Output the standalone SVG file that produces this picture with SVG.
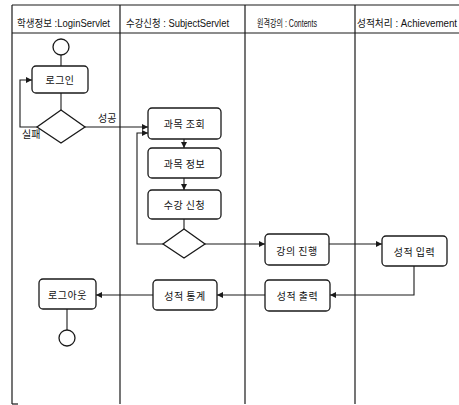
<svg xmlns="http://www.w3.org/2000/svg" width="459" height="405" viewBox="0 0 459 405">
<style>
.lane{stroke:#1a1a1a;stroke-width:1.2;fill:none}
.hdr{font-family:"Liberation Sans","Noto Sans CJK KR",sans-serif;font-size:10px;fill:#111}
.box{fill:#fff;stroke:#1a1a1a;stroke-width:1.3}
.lbl{font-family:"Noto Sans CJK KR","Noto Sans",sans-serif;font-size:10px;fill:#111;text-anchor:middle;dominant-baseline:central;letter-spacing:0.5px}
.edge{stroke:#1a1a1a;stroke-width:1.1;fill:none}
.node{fill:#fff;stroke:#1a1a1a;stroke-width:1.3}
.elbl{font-family:"Noto Sans CJK KR","Noto Sans",sans-serif;font-size:10px;fill:#111}
</style>
<defs>
<marker id="arr" viewBox="0 0 10 10" refX="10" refY="5" markerWidth="6" markerHeight="6" orient="auto" markerUnits="userSpaceOnUse">
<path d="M0,0 L10,5 L0,10 z" fill="#1a1a1a"/>
</marker>
</defs>
<rect width="459" height="405" fill="#fff"/>
<g id="lanes">
<line class="lane" x1="12" y1="5" x2="459" y2="5"/>
<line class="lane" x1="12" y1="33" x2="459" y2="33"/>
<line class="lane" x1="12" y1="5" x2="12" y2="404"/>
<line class="lane" x1="12" y1="404" x2="18" y2="404"/>
<line class="lane" x1="120" y1="5" x2="120" y2="404"/>
<line class="lane" x1="245" y1="5" x2="245" y2="404"/>
<line class="lane" x1="355" y1="5" x2="355" y2="404"/>
<text class="hdr" x="17" y="27" textLength="93" lengthAdjust="spacingAndGlyphs">학생정보 :LoginServlet</text>
<text class="hdr" x="126" y="27" textLength="103" lengthAdjust="spacingAndGlyphs">수강신청 : SubjectServlet</text>
<text class="hdr" x="257" y="27" textLength="60" lengthAdjust="spacingAndGlyphs">원격강의 : Contents</text>
<text class="hdr" x="357" y="27" textLength="100" lengthAdjust="spacingAndGlyphs">성적처리 : Achievement</text>
</g>
<g id="connectors">
<line class="edge" x1="61" y1="55" x2="61" y2="66"/>
<line class="edge" x1="61" y1="93" x2="61" y2="110"/>
<polyline class="edge" points="37,127 20,127 20,80 32,80" marker-end="url(#arr)"/>
<line class="edge" x1="85" y1="127" x2="148" y2="127" marker-end="url(#arr)"/>
<line class="edge" x1="184" y1="139" x2="184" y2="148" marker-end="url(#arr)"/>
<line class="edge" x1="184" y1="178" x2="184" y2="190" marker-end="url(#arr)"/>
<line class="edge" x1="184" y1="219" x2="184" y2="229"/>
<polyline class="edge" points="163,244 137,244 137,133 148,133" marker-end="url(#arr)"/>
<line class="edge" x1="205" y1="244" x2="265" y2="244" marker-end="url(#arr)"/>
<line class="edge" x1="329" y1="244" x2="382" y2="244" marker-end="url(#arr)"/>
<polyline class="edge" points="414,266 414,295 330,295" marker-end="url(#arr)"/>
<line class="edge" x1="265" y1="295" x2="217" y2="295" marker-end="url(#arr)"/>
<line class="edge" x1="153" y1="295" x2="96" y2="295" marker-end="url(#arr)"/>
<line class="edge" x1="67" y1="309" x2="67" y2="330"/>
<text class="elbl" x="98" y="122">성공</text>
<text class="elbl" x="22" y="138">실패</text>
</g>
<g id="start"><circle class="node" cx="61" cy="47" r="8"/></g>
<g id="login"><rect class="box" x="32" y="66" width="56" height="27" rx="4"/><text class="lbl" x="60" y="79.5">로그인</text></g>
<g id="decision1"><polygon class="node" points="61,110 85,127 61,143 37,127"/></g>
<g id="subject-query"><rect class="box" x="148" y="108" width="73" height="31" rx="4"/><text class="lbl" x="184.5" y="123.5">과목 조회</text></g>
<g id="subject-info"><rect class="box" x="148" y="148" width="73" height="30" rx="4"/><text class="lbl" x="184.5" y="163">과목 정보</text></g>
<g id="enroll"><rect class="box" x="148" y="190" width="73" height="29" rx="4"/><text class="lbl" x="184.5" y="204.5">수강 신청</text></g>
<g id="decision2"><polygon class="node" points="184,229 205,244 184,258 163,244"/></g>
<g id="lecture"><rect class="box" x="265" y="234" width="64" height="31" rx="4"/><text class="lbl" x="297" y="250">강의 진행</text></g>
<g id="grade-input"><rect class="box" x="382" y="236" width="65" height="30" rx="4"/><text class="lbl" x="414.5" y="251">성적 입력</text></g>
<g id="grade-output"><rect class="box" x="265" y="280" width="65" height="31" rx="4"/><text class="lbl" x="297.5" y="295.5">성적 출력</text></g>
<g id="grade-stats"><rect class="box" x="153" y="280" width="64" height="30" rx="4"/><text class="lbl" x="185" y="295">성적 통계</text></g>
<g id="logout"><rect class="box" x="39" y="279" width="57" height="30" rx="4"/><text class="lbl" x="67.5" y="294">로그아웃</text></g>
<g id="end"><circle class="node" cx="67" cy="338" r="8"/></g>
</svg>
